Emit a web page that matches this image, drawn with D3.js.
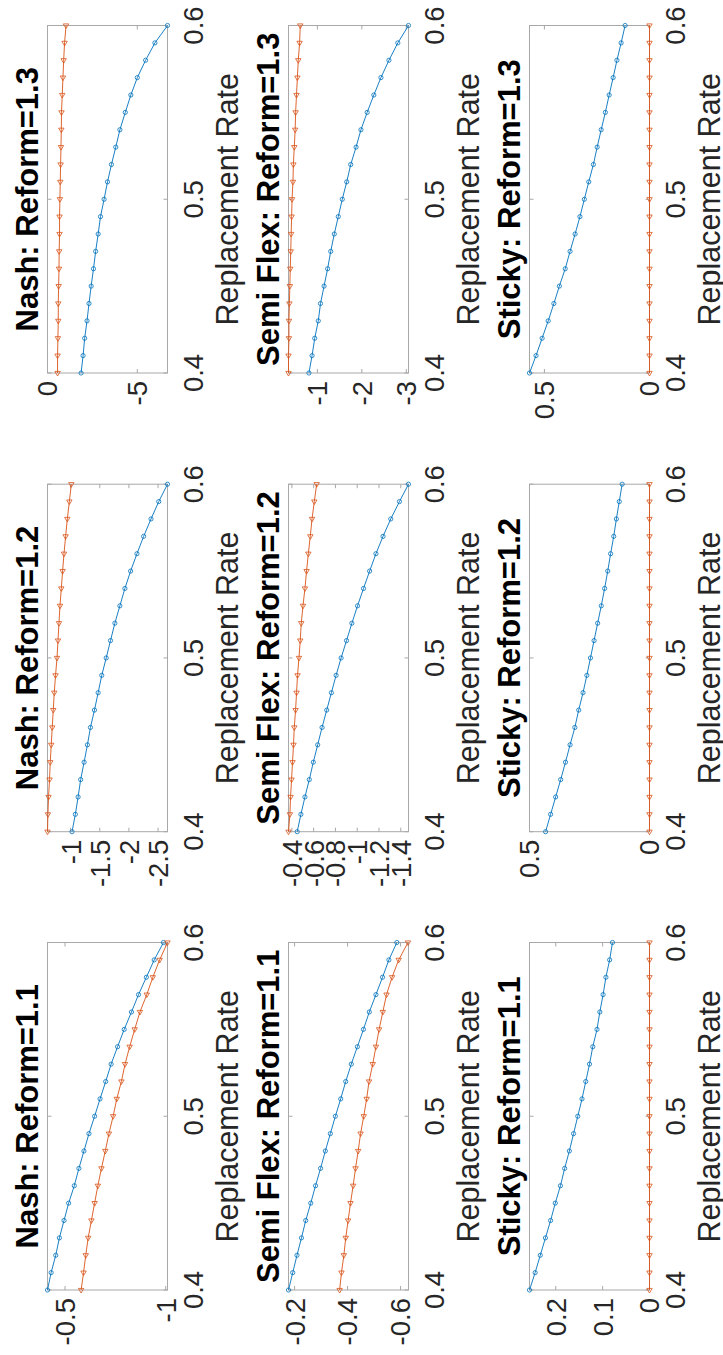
<!DOCTYPE html>
<html>
<head>
<meta charset="utf-8">
<script src="https://cdn.jsdelivr.net/npm/d3@7"></script>
<style>
  html, body { margin: 0; padding: 0; background: #fff; }
  svg { display: block; }
  text { font-family: "Liberation Sans", Arial, Helvetica, sans-serif; }
</style>
</head>
<body>
<svg id="fig" width="723" height="1355"></svg>
<script>
// Replacement rate grid shared by every panel
const rate = [0.40, 0.41, 0.42, 0.43, 0.44, 0.45, 0.46, 0.47, 0.48, 0.49, 0.50,
              0.51, 0.52, 0.53, 0.54, 0.55, 0.56, 0.57, 0.58, 0.59, 0.60];
const rateTicks = [0.4, 0.5, 0.6];
const regimes = ["Nash", "Semi Flex", "Sticky"];
const reforms = ["1.1", "1.2", "1.3"];

// Nash
const nash11A = [-0.413,-0.431,-0.454,-0.472,-0.495,-0.518,-0.546,-0.569,-0.594,-0.619,-0.647,
                 -0.674,-0.702,-0.729,-0.761,-0.794,-0.830,-0.865,-0.904,-0.943,-0.989];
const nash11B = [-0.580,-0.592,-0.603,-0.615,-0.631,-0.647,-0.663,-0.681,-0.700,-0.718,-0.739,
                 -0.757,-0.780,-0.798,-0.821,-0.846,-0.872,-0.906,-0.936,-0.970,-1.009];
const nash12A = [-1.024,-1.081,-1.128,-1.172,-1.231,-1.288,-1.340,-1.409,-1.472,-1.534,-1.610,
                 -1.684,-1.759,-1.845,-1.931,-2.029,-2.138,-2.253,-2.379,-2.512,-2.662];
const nash12B = [-0.603,-0.610,-0.621,-0.638,-0.650,-0.667,-0.684,-0.702,-0.719,-0.741,-0.766,
                 -0.783,-0.800,-0.817,-0.840,-0.862,-0.886,-0.914,-0.943,-0.978,-1.012];
const nash13A = [-1.87,-1.98,-2.07,-2.20,-2.31,-2.43,-2.56,-2.68,-2.82,-2.95,-3.15,
                 -3.34,-3.56,-3.80,-4.03,-4.33,-4.64,-5.00,-5.46,-5.98,-6.68];
const nash13B = [-0.56,-0.56,-0.58,-0.60,-0.60,-0.62,-0.64,-0.65,-0.67,-0.67,-0.69,
                 -0.71,-0.73,-0.75,-0.77,-0.78,-0.82,-0.86,-0.90,-0.95,-1.03];

// Semi Flex
const semi11A = [-0.177,-0.193,-0.209,-0.226,-0.242,-0.261,-0.279,-0.298,-0.316,-0.335,-0.354,
                 -0.374,-0.393,-0.414,-0.437,-0.460,-0.482,-0.507,-0.532,-0.556,-0.586];
const semi11B = [-0.370,-0.377,-0.386,-0.393,-0.402,-0.411,-0.421,-0.430,-0.440,-0.449,-0.461,
                 -0.472,-0.481,-0.495,-0.507,-0.519,-0.533,-0.547,-0.568,-0.593,-0.628];
const semi12A = [-0.449,-0.483,-0.520,-0.560,-0.597,-0.637,-0.677,-0.720,-0.763,-0.806,-0.852,
                 -0.902,-0.951,-1.003,-1.058,-1.114,-1.172,-1.237,-1.308,-1.388,-1.471];
const semi12B = [-0.369,-0.382,-0.388,-0.397,-0.406,-0.415,-0.422,-0.434,-0.443,-0.452,-0.465,
                 -0.477,-0.486,-0.502,-0.520,-0.535,-0.551,-0.569,-0.585,-0.606,-0.628];
const semi13A = [-0.81,-0.88,-0.94,-1.02,-1.07,-1.15,-1.23,-1.30,-1.38,-1.47,-1.56,
                 -1.66,-1.75,-1.87,-1.98,-2.12,-2.27,-2.43,-2.61,-2.81,-3.05];
const semi13B = [-0.35,-0.35,-0.36,-0.36,-0.37,-0.38,-0.39,-0.40,-0.41,-0.42,-0.43,
                 -0.45,-0.46,-0.48,-0.50,-0.51,-0.53,-0.55,-0.57,-0.60,-0.615];

// Sticky
const sticky11A = [0.256,0.244,0.233,0.222,0.211,0.201,0.190,0.181,0.171,0.162,0.153,
                   0.144,0.136,0.128,0.121,0.112,0.106,0.099,0.093,0.085,0.079];
const sticky11B = [0,0,0,0,0,0,0,0,0,0,0,0,0,0,0,0,0,0,0,0,0];
const sticky12A = [0.433,0.412,0.391,0.370,0.350,0.331,0.311,0.295,0.277,0.261,0.246,
                   0.231,0.216,0.201,0.187,0.174,0.162,0.149,0.138,0.126,0.114];
const sticky12B = [0,0,0,0,0,0,0,0,0,0,0,0,0,0,0,0,0,0,0,0,0];
const sticky13A = [0.571,0.540,0.511,0.482,0.455,0.429,0.401,0.378,0.354,0.331,0.310,
                   0.289,0.267,0.249,0.230,0.210,0.192,0.173,0.155,0.135,0.116];
const sticky13B = [0,0,0,0,0,0,0,0,0,0,0,0,0,0,0,0,0,0,0,0,0];

// Value-axis limits and ticks, one per panel (rows: regime, columns: reform)
const yLimits = [
  [[-1.009, -0.413], [-2.662, -0.603], [-6.68, 0]],
  [[-0.630, -0.177], [-1.471, -0.369], [-3.05, -0.35]],
  [[0, 0.256], [0, 0.5], [0, 0.571]]
];
const yTicks = [
  [[-1, -0.5], [-2.5, -2, -1.5, -1], [-5, 0]],
  [[-0.6, -0.4, -0.2], [-1.4, -1.2, -1, -0.8, -0.6, -0.4], [-3, -2, -1]],
  [[0, 0.1, 0.2], [0, 0.5], [0, 0.5]]
];
const seriesA = [[nash11A, nash12A, nash13A], [semi11A, semi12A, semi13A], [sticky11A, sticky12A, sticky13A]];
const seriesB = [[nash11B, nash12B, nash13B], [semi11B, semi12B, semi13B], [sticky11B, sticky12B, sticky13B]];

// ---- drawing ----
const W = 1355, H = 723;           // landscape figure, turned a quarter-turn on the page
const colLeft = [65, 523.3, 982];
const rowTop = [47.5, 288.5, 529.5];
const plotW = 347.5, plotH = 120;
const tickLen = 4;
const blue = "#0072BD", orange = "#D95319";
const axisGrey = "#a8a8a8", textGrey = "#262626";

const svg = d3.select("#fig");
svg.append("rect").attr("width", 723).attr("height", 1355).attr("fill", "#fff");
const fig = svg.append("g").attr("transform", `translate(0,${W}) rotate(-90)`);

// triangle marker, drawn in the turned frame
const triMarker = "M1.6,-2.7L1.6,2.7L-3.0,0Z";

regimes.forEach((regime, r) => {
  reforms.forEach((reform, c) => {
    const x0 = colLeft[c], y0 = rowTop[r];
    const g = fig.append("g").attr("transform", `translate(${x0},${y0})`);
    const x = d3.scaleLinear().domain([0.4, 0.6]).range([0, plotW]);
    const y = d3.scaleLinear().domain(yLimits[r][c]).range([plotH, 0]);

    // box
    g.append("rect").attr("width", plotW).attr("height", plotH)
      .attr("fill", "none").attr("stroke", axisGrey).attr("stroke-width", 1);

    // x ticks (bottom and mirrored top)
    rateTicks.forEach(t => {
      const px = x(t);
      g.append("line").attr("x1", px).attr("x2", px).attr("y1", plotH).attr("y2", plotH - tickLen)
        .attr("stroke", axisGrey);
      g.append("line").attr("x1", px).attr("x2", px).attr("y1", 0).attr("y2", tickLen)
        .attr("stroke", axisGrey);
      g.append("text").attr("x", px).attr("y", plotH + 35)
        .attr("text-anchor", "middle").attr("font-size", 27.5).attr("fill", textGrey)
        .text(String(t));
    });

    // y ticks (left and mirrored right)
    yTicks[r][c].forEach(t => {
      const py = y(t);
      g.append("line").attr("x1", 0).attr("x2", tickLen).attr("y1", py).attr("y2", py)
        .attr("stroke", axisGrey);
      g.append("line").attr("x1", plotW).attr("x2", plotW - tickLen).attr("y1", py).attr("y2", py)
        .attr("stroke", axisGrey);
      g.append("text").attr("x", -8).attr("y", py).attr("dy", "0.36em")
        .attr("text-anchor", "end").attr("font-size", 27.5).attr("fill", textGrey)
        .text(String(t));
    });

    // title and axis label
    g.append("text").attr("x", plotW / 2).attr("y", -10)
      .attr("text-anchor", "middle").attr("font-size", 31).attr("font-weight", "bold")
      .attr("fill", "#000").text(`${regime}: Reform=${reform}`);
    g.append("text").attr("x", plotW / 2).attr("y", plotH + 70)
      .attr("text-anchor", "middle").attr("font-size", 30.5).attr("fill", textGrey)
      .text("Replacement Rate");

    const line = d3.line().x((d, i) => x(rate[i])).y(d => y(d));

    // first series: circles
    const a = seriesA[r][c];
    g.append("path").datum(a).attr("d", line)
      .attr("fill", "none").attr("stroke", blue).attr("stroke-width", 0.9);
    g.selectAll(null).data(a).enter().append("circle")
      .attr("cx", (d, i) => x(rate[i])).attr("cy", d => y(d)).attr("r", 2.1)
      .attr("fill", "none").attr("stroke", blue).attr("stroke-width", 0.8);

    // second series: triangles
    const b = seriesB[r][c];
    g.append("path").datum(b).attr("d", line)
      .attr("fill", "none").attr("stroke", orange).attr("stroke-width", 0.9);
    g.selectAll(null).data(b).enter().append("path")
      .attr("d", triMarker)
      .attr("transform", (d, i) => `translate(${x(rate[i])},${y(d)})`)
      .attr("fill", "none").attr("stroke", orange).attr("stroke-width", 0.8);
  });
});
</script>
</body>
</html>
